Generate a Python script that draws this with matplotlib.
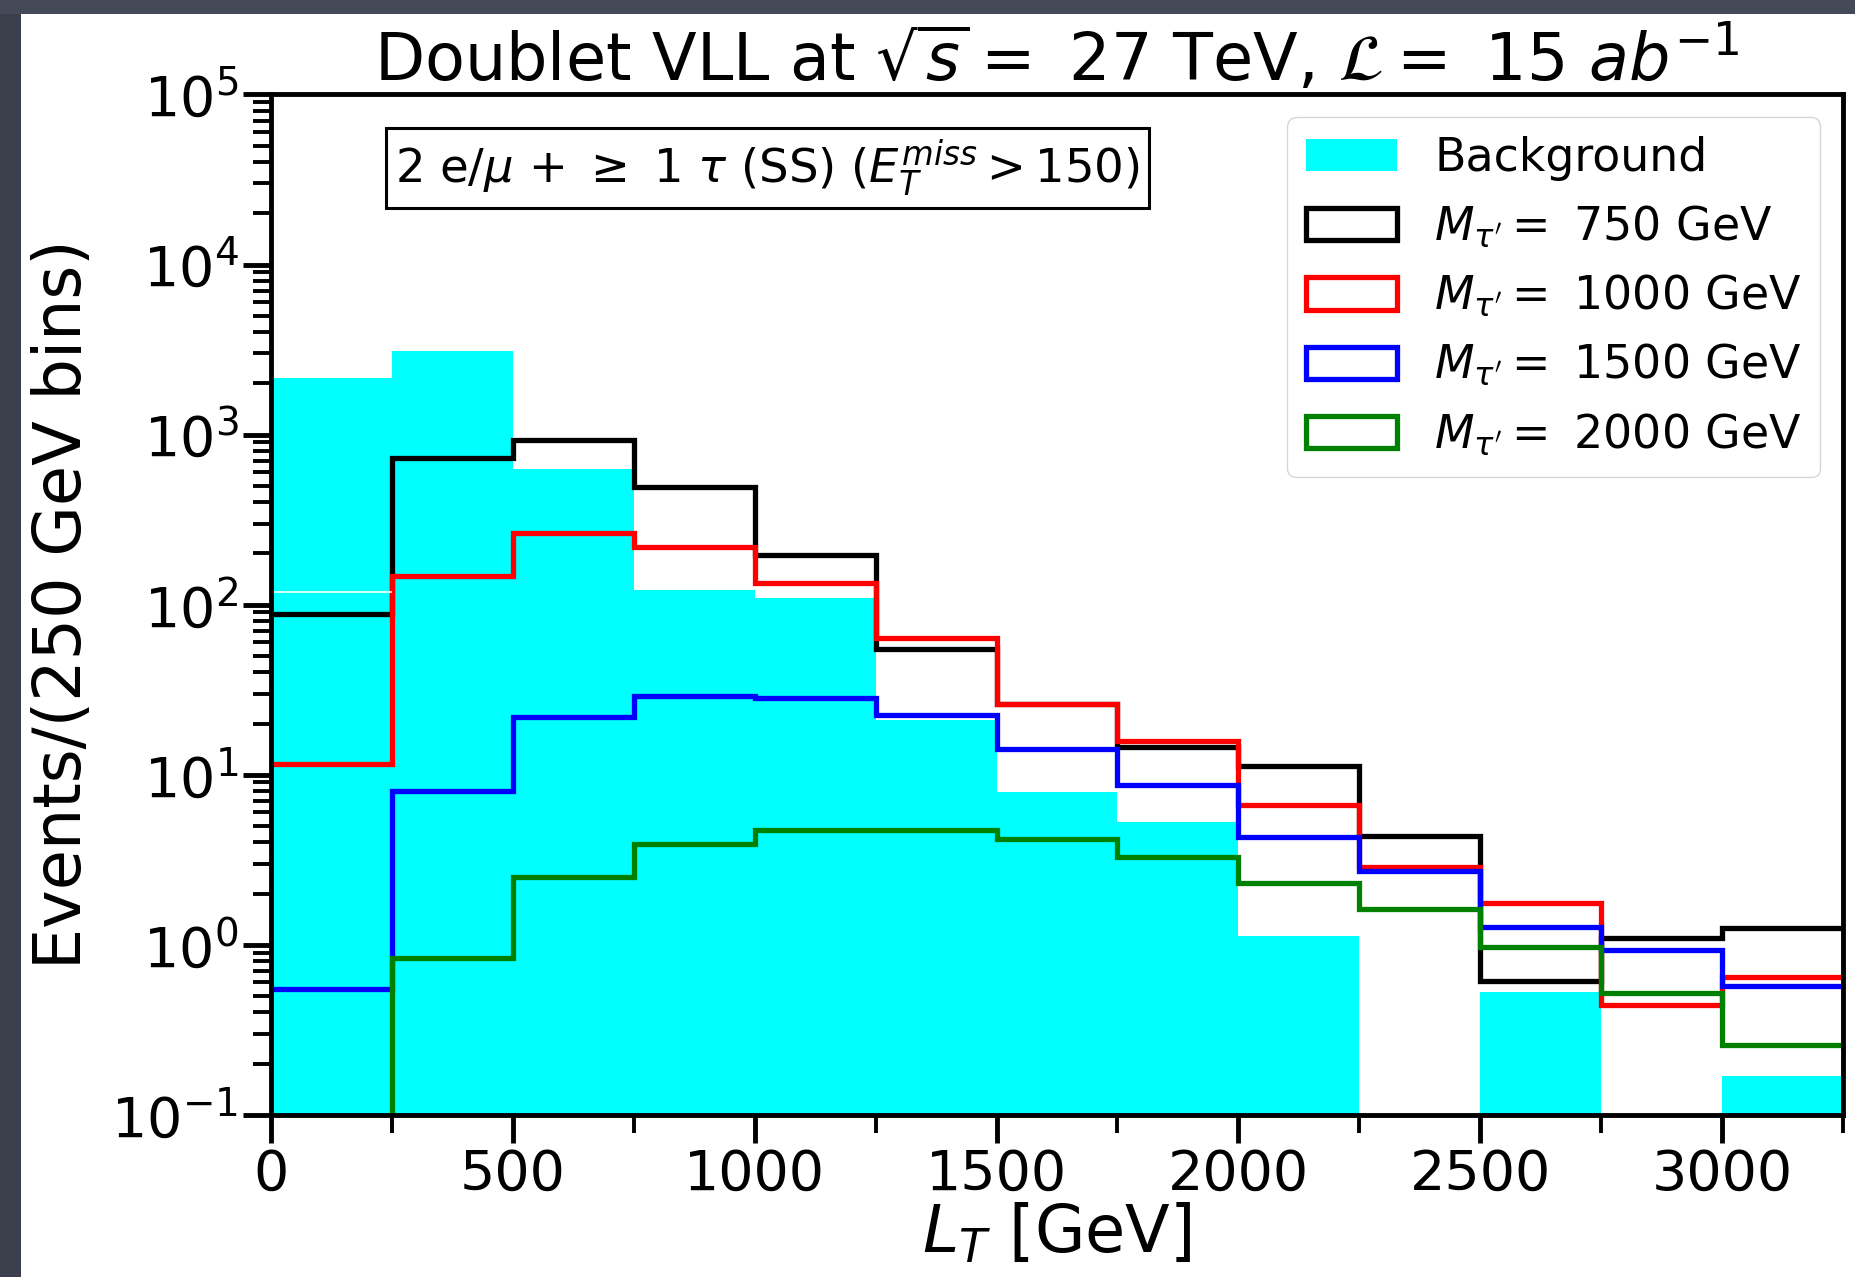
import numpy as np
import matplotlib
matplotlib.use('Agg')
import matplotlib.pyplot as plt
from matplotlib.patches import Rectangle, Patch

# L_T bins (250 GeV wide)
edges = np.arange(0, 3251, 250)

# background (cyan, filled)
bkg = [2160, 3110, 629, 122, 110, 21.0, 7.9, 5.3, 1.13, 0, 0.53, 0, 0.17]
bkg_seam = 118  # boundary between stacked background pieces in first bin

# signal samples
sig_750 = [88.7, 727, 935, 489, 196, 55.2, 26.0, 14.5, 11.2, 4.37, 0.614, 1.09, 1.25]
sig_1000 = [11.6, 146.5, 264, 219, 134, 63.6, 26.2, 15.8, 6.65, 2.85, 1.75, 0.44, 0.642]
sig_1500 = [0.546, 8.04, 21.8, 29.2, 28.2, 22.5, 14.1, 8.72, 4.33, 2.73, 1.28, 0.933, 0.576]
sig_2000 = [0, 0.84, 2.52, 3.92, 4.70, 4.72, 4.20, 3.29, 2.30, 1.63, 0.964, 0.519, 0.256]

masses = ['750', '1000', '1500', '2000']
colors = ['black', 'red', 'blue', 'green']

fig = plt.figure(figsize=(18.56, 12.77), dpi=100)
ax = fig.add_axes([0.146, 0.127, 0.847, 0.799])

# dark slide background peeking in at top and left
fig.patches.append(Rectangle((0, 0), 21 / 1856, 1, transform=fig.transFigure,
                             facecolor='#3c404c', edgecolor='none', zorder=-1))
fig.patches.append(Rectangle((0, 1 - 14 / 1277), 1, 14 / 1277, transform=fig.transFigure,
                             facecolor='#454a58', edgecolor='none', zorder=-1))

ax.bar(edges[:-1], bkg, width=np.diff(edges), align='edge', color='cyan', linewidth=0)
ax.hlines(bkg_seam, edges[0], edges[1], color='white', linewidth=1.2)

handles = [Patch(facecolor='cyan', edgecolor='none')]
labels = ['Background']
for vals, m, c in zip([sig_750, sig_1000, sig_1500, sig_2000], masses, colors):
    ax.stairs(vals, edges, color=c, linewidth=3.8, baseline=None)
    handles.append(Patch(facecolor='none', edgecolor=c, linewidth=3.8))
    labels.append(r'$M_{\tau^{\prime}} =$ ' + m + ' GeV')

ax.set_yscale('log')
ax.set_ylim(0.1, 1e5)
ax.set_xlim(0, 3250)
ax.set_xticks(np.arange(0, 3001, 500))
ax.set_xticks(np.arange(0, 3251, 250), minor=True)

ax.tick_params(axis='both', which='major', direction='out', length=20, width=3.5,
               labelsize=40, top=False, right=False)
ax.tick_params(axis='both', which='minor', direction='out', length=13, width=2.8,
               top=False, right=False)
for sp in ax.spines.values():
    sp.set_linewidth(3.5)

ax.set_xlabel(r'$L_T$ [GeV]', fontsize=47, labelpad=0)
ax.set_ylabel('Events/(250 GeV bins)', fontsize=47, labelpad=12)
ax.set_title(r'Doublet VLL at $\sqrt{s} =$ 27 TeV, $\mathcal{L} =$ 15 $ab^{-1}$',
             fontsize=47, pad=4)

ax.text(0.316, 0.928, r'2 e/$\mu$ + $\geq$ 1 $\tau$ (SS) ($E_T^{miss} > 150$)',
        transform=ax.transAxes, ha='center', va='center', fontsize=33.5,
        bbox=dict(facecolor='white', edgecolor='black', boxstyle='square,pad=0.2',
                  linewidth=2.2))

ax.legend(handles, labels, loc='upper right', fontsize=33)

fig.savefig('out.png', dpi=100)
